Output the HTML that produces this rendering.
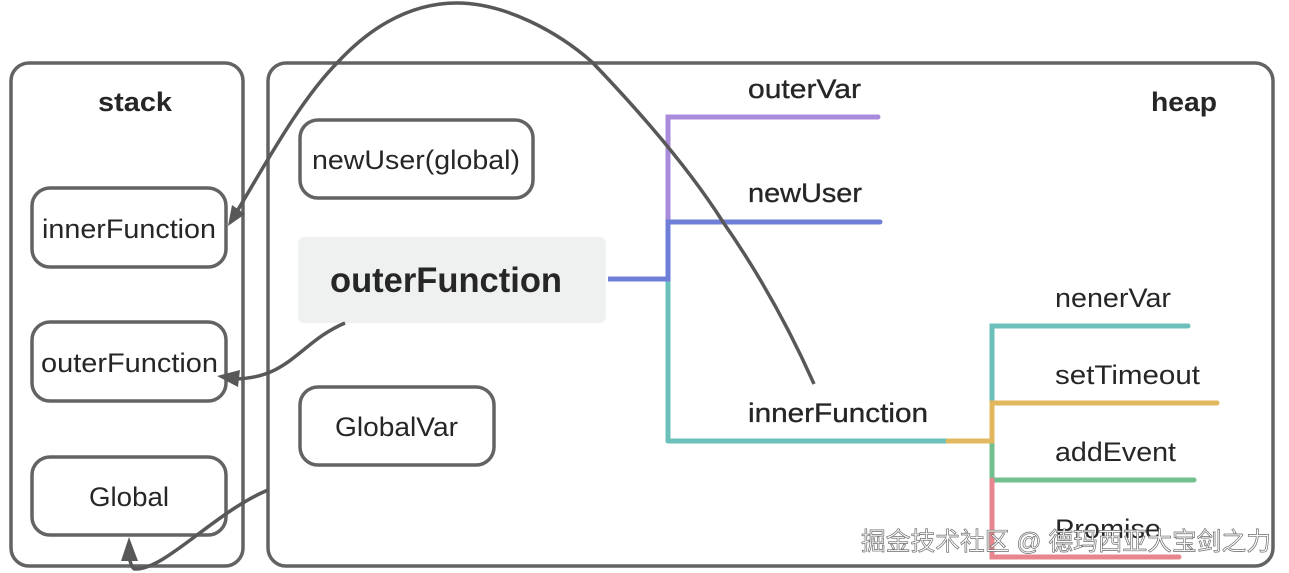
<!DOCTYPE html>
<html>
<head>
<meta charset="utf-8">
<style>
html,body{margin:0;padding:0;background:#fff;width:1289px;height:573px;overflow:hidden}
svg{display:block}
text{font-family:"Liberation Sans","Noto Sans CJK SC",sans-serif;fill:#262626}
.m{stroke:#262626;stroke-width:.35px}
.wm{font-size:25px;fill:#fff;stroke:#6e6e6e;stroke-width:.7px}
</style>
</head>
<body>
<svg width="1289" height="573" viewBox="0 0 1289 573" xmlns="http://www.w3.org/2000/svg">
<g fill="none" stroke="#636363" stroke-width="3.5">
<rect x="11" y="63" width="232" height="503" rx="18"/>
<rect x="268" y="63" width="1005" height="503" rx="18"/>
<rect x="32" y="188" width="194" height="79" rx="18"/>
<rect x="32" y="322" width="194" height="79" rx="18"/>
<rect x="32" y="457" width="194" height="78" rx="18"/>
<rect x="300" y="120" width="233" height="78" rx="18"/>
<rect x="300" y="387" width="194" height="78" rx="18"/>
</g>
<rect x="298" y="237" width="308" height="86" rx="6" fill="#eff1f1"/>
<g fill="none" stroke-width="5" stroke-linecap="round">
<path d="M668 222V117H878" stroke="#a98bdc"/>
<path d="M668 441V279" stroke="#6cc0bc"/>
<path d="M668 441H948" stroke="#6cc0bc"/>
<path d="M608 279H668V222H880" stroke="#6f7fd8" stroke-linecap="butt"/>
<path d="M880 222h0" stroke="#6f7fd8"/>
<path d="M992 403V326H1188" stroke="#6cc0bc"/>
<path d="M992 441V480H1194" stroke="#72c08e"/>
<path d="M992 480V557H1179" stroke="#e8868e"/>
<path d="M948 441H992V403H1217" stroke="#e2b85f"/>
</g>
<g fill="none" stroke="#585858" stroke-width="3.5">
<path d="M814 384C790 330 760 275 723 222C690 170 640 112 592 62C558 32 505 3 457 3C405 3 365 33 338 62C300 100 265 165 236 213"/>
<path d="M345 323C300 342 290 378 235 379"/>
<path d="M268 490C215 512 165 570 135 569C132 569 130 562 128 552"/>
</g>
<g fill="#585858">
<polygon points="228,226 232,205 245,214"/>
<polygon points="217,376 240,370 238,387"/>
<polygon points="129,537 121,561 138,561"/>
</g>
<text x="135" y="111" font-size="27" font-weight="bold" text-anchor="middle" textLength="74" lengthAdjust="spacingAndGlyphs">stack</text>
<text x="1184" y="111" font-size="27" font-weight="bold" text-anchor="middle" textLength="66" lengthAdjust="spacingAndGlyphs">heap</text>
<text x="42" y="238" font-size="27" textLength="174" lengthAdjust="spacingAndGlyphs">innerFunction</text>
<text x="41" y="372" font-size="27" textLength="177" lengthAdjust="spacingAndGlyphs">outerFunction</text>
<text x="89" y="506" font-size="27" textLength="80" lengthAdjust="spacingAndGlyphs">Global</text>
<text x="312" y="169" font-size="27" textLength="208" lengthAdjust="spacingAndGlyphs">newUser(global)</text>
<text x="335" y="436" font-size="27" textLength="123" lengthAdjust="spacingAndGlyphs">GlobalVar</text>
<text x="330" y="292" font-size="35" font-weight="bold" textLength="232" lengthAdjust="spacingAndGlyphs">outerFunction</text>
<text class="m" x="748" y="98" font-size="27" textLength="113" lengthAdjust="spacingAndGlyphs">outerVar</text>
<text class="m" x="748" y="202" font-size="27" textLength="114" lengthAdjust="spacingAndGlyphs">newUser</text>
<text class="m" x="748" y="422" font-size="27" textLength="180" lengthAdjust="spacingAndGlyphs">innerFunction</text>
<text x="1055" y="307" font-size="27" textLength="116" lengthAdjust="spacingAndGlyphs">nenerVar</text>
<text x="1055" y="384" font-size="27" textLength="145" lengthAdjust="spacingAndGlyphs">setTimeout</text>
<text x="1055" y="461" font-size="27" textLength="121" lengthAdjust="spacingAndGlyphs">addEvent</text>
<text x="1055" y="538" font-size="27" textLength="106" lengthAdjust="spacingAndGlyphs">Promise</text>
<text class="wm" x="861" y="550" textLength="410" lengthAdjust="spacingAndGlyphs">掘金技术社区 @ 德玛西亚大宝剑之力</text>
</svg>
</body>
</html>
